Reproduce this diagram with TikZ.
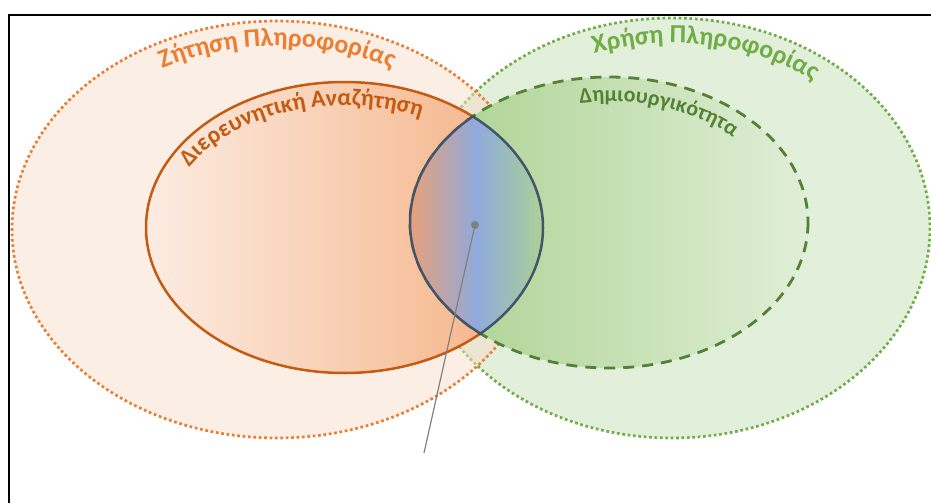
\documentclass[tikz,border=0pt]{standalone}
\usepackage{fontspec}
\setmainfont{Carlito}
\usetikzlibrary{decorations.text}
\definecolor{zitisi}{RGB}{237,125,49}
\definecolor{zitisifill}{RGB}{247,221,201}
\definecolor{xrisi}{RGB}{112,173,71}
\definecolor{xrisifill}{RGB}{226,239,218}
\definecolor{diereu}{RGB}{197,90,17}
\definecolor{diereulight}{RGB}{252,236,226}
\definecolor{diereudark}{RGB}{244,175,128}
\definecolor{dimiou}{RGB}{84,130,53}
\definecolor{dimioudark}{RGB}{169,209,142}
\definecolor{dimioulight}{RGB}{224,238,215}
\definecolor{lensline}{RGB}{68,84,106}
\definecolor{lensblue}{RGB}{143,170,220}
\definecolor{lensorange}{RGB}{232,160,122}
\definecolor{lensgreen}{RGB}{172,210,148}
\begin{document}
\begin{tikzpicture}[x=1pt,y=-1pt,
  dots/.style={line width=2.7pt, dash pattern=on 2.7pt off 2.7pt},
  dashes/.style={line width=2.8pt, dash pattern=on 11pt off 8pt}]
\useasboundingbox (0,0) rectangle (931,503);
\fill[xrisifill] (672,228) ellipse [x radius=258, y radius=210];
\draw[dots,xrisi] (672,228) ellipse [x radius=258, y radius=210];
\fill[zitisifill,fill opacity=0.5] (277,229.5) ellipse [x radius=265, y radius=208.5];
\draw[dots,zitisi] (277,229.5) ellipse [x radius=265, y radius=208.5];
\shade[left color=diereulight,right color=diereudark] (344.5,227.5) ellipse [x radius=198.5, y radius=145.5];
\draw[diereu,line width=2.5pt] (344.5,227.5) ellipse [x radius=198.5, y radius=145.5];
\shade[left color=dimioudark,right color=dimioulight] (609,222.5) ellipse [x radius=199, y radius=145.5];
\draw[dashes,dimiou] (609,222.5) ellipse [x radius=199, y radius=145.5];
\begin{scope}
\clip (344.5,227.5) ellipse [x radius=198.5, y radius=145.5];
\clip (609,222.5) ellipse [x radius=199, y radius=145.5];
\shade[left color=lensorange,right color=lensgreen,middle color=lensblue] (410,100) rectangle (544,350);
\end{scope}
\begin{scope}
\clip (344.5,227.5) ellipse [x radius=200, y radius=147];
\draw[lensline,line width=2.5pt] (609,222.5) ellipse [x radius=199, y radius=145.5];
\end{scope}
\begin{scope}
\clip (609,222.5) ellipse [x radius=200.5, y radius=147];
\draw[lensline,line width=2.5pt] (344.5,227.5) ellipse [x radius=198.5, y radius=145.5];
\end{scope}
\path[decorate,decoration={text along path,text align=center,
  text={|\fontsize{26}{26}\selectfont\bfseries\color{zitisi}|Ζήτηση Πληροφορίας}}]
  (277,229.5) ++(238:240 and 183.5) arc [start angle=238, end angle=302, x radius=240, y radius=183.5];
\path[decorate,decoration={text along path,text align=center,
  text={|\fontsize{26}{26}\selectfont\bfseries\color{xrisi}|Χρήση Πληροφορίας}}]
  (672,228) ++(246:233 and 185) arc [start angle=246, end angle=312, x radius=233, y radius=185];
\path[decorate,decoration={text along path,text align=center,
  text={|\fontsize{24}{24}\selectfont\bfseries\color{diereu}|Διερευνητική Αναζήτηση}}]
  (344.5,227.5) ++(205:178 and 122) arc [start angle=205, end angle=299, x radius=178, y radius=122];
\path[decorate,decoration={text along path,text align=center,
  text={|\fontsize{22}{22}\selectfont\bfseries\color{dimiou}|Δημιουργικότητα}}]
  (609,222.5) ++(258:175 and 121) arc [start angle=258, end angle=318, x radius=175, y radius=121];
\node[circle,fill=gray,inner sep=0pt,minimum size=8pt] (focus) at (475,225) {};
\coordinate (tail) at (424,453);
\draw[gray,line width=1.2pt] (focus) -- (tail);
\draw[line width=2pt] (931,15) -- (9,15) -- (9,503);
\end{tikzpicture}
\end{document}
